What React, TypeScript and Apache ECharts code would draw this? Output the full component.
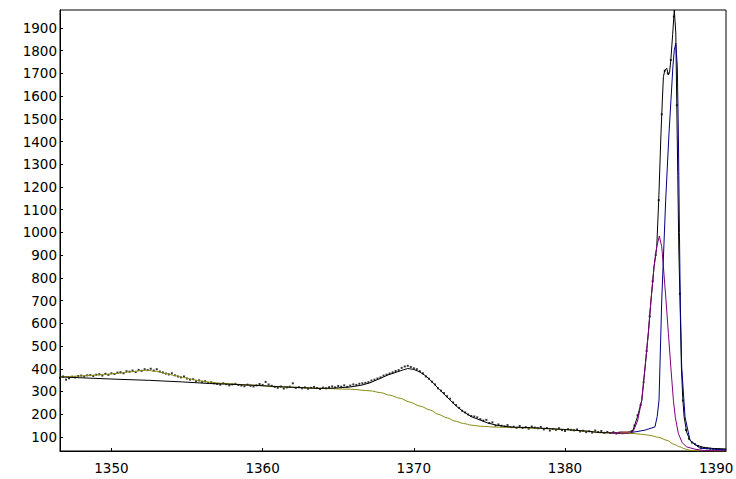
import React, { useEffect, useRef } from "react";
import * as echarts from "echarts";

const xTicks = [1350, 1360, 1370, 1380, 1390];
const yTicks = [100, 200, 300, 400, 500, 600, 700, 800, 900, 1000, 1100, 1200, 1300, 1400, 1500, 1600, 1700, 1800, 1900];
const xMin = 1346.6;
const xMax = 1390.65;
const yMin = 38;
const yMax = 1979;

// measured points: regular scan grid
const scanStart = 1346.6;
const scanStep = 0.2;
const counts = [
  360, 366, 352, 358, 365, 362, 368, 370, 366, 371,
  372, 368, 374, 376, 370, 378, 373, 380, 377, 383,
  385, 380, 389, 387, 392, 386, 395, 391, 398, 394,
  400, 392, 398, 388, 384, 379, 375, 380, 371, 366,
  362, 366, 357, 352, 354, 346, 349, 342, 345, 338,
  340, 336, 333, 330, 336, 332, 327, 331, 334, 329,
  326, 323, 330, 325, 322, 327, 333, 329, 342, 331,
  325, 320, 316, 322, 313, 318, 321, 336, 316, 319,
  314, 318, 312, 316, 320, 315, 311, 317, 314, 319,
  322, 318, 324, 321, 327, 320, 326, 331, 329, 334,
  336, 338, 341, 348, 352, 357, 362, 370, 374, 379,
  384, 390, 394, 404, 410, 413, 408, 402, 398, 389,
  380, 366, 356, 343, 331, 314, 304, 293, 279, 268,
  252, 240, 228, 215, 208, 199, 192, 190, 186, 178,
  172, 175, 161, 164, 150, 155, 149, 146, 152, 143,
  145, 140, 148, 139, 143, 136, 146, 141, 138, 144,
  133, 139, 128, 135, 131, 138, 130, 126, 134, 131,
  129, 133, 124, 127, 121, 125, 119, 128, 122, 126,
  118, 122, 117, 121, 115, 119, 116, 118, 120, 124,
  150, 195, 240, 340, 478, 630, 785, 900, 1142, 1520,
  1712, 1700, 1759, 1950, 1560, 730, 260, 130, 92, 75,
  68, 60, 55, 52, 50, 48, 47, 46, 45, 44, 43,
];

const fitX = [
  1346.6, 1350.3, 1352.5, 1354.7, 1356.5, 1357.4, 1359.2, 1361.4, 1363.6, 1364.5,
  1365.0, 1365.8, 1366.5, 1367.1, 1367.8, 1368.3, 1368.9, 1369.3, 1369.6, 1370.0,
  1370.4, 1370.8, 1371.1, 1371.7, 1372.4, 1372.8, 1373.3, 1373.8, 1374.4, 1374.9,
  1375.5, 1376.5, 1377.7, 1379.9, 1381.5, 1382.3, 1383.5, 1384.2, 1384.5, 1384.8,
  1385.08, 1385.3, 1385.51, 1385.69, 1385.89, 1386.07, 1386.2, 1386.35, 1386.44, 1386.51,
  1386.6, 1386.73, 1386.84, 1386.92, 1387.0, 1387.12, 1387.23, 1387.33, 1387.39, 1387.46,
  1387.53, 1387.61, 1387.7, 1387.79, 1387.88, 1388.05, 1388.27, 1388.6, 1389.13, 1389.8,
  1390.65,
];
const fitY = [
  364, 354, 349, 342, 335, 333, 328, 320, 314, 314,
  316, 320, 327, 338, 358, 373, 386, 395, 401, 397,
  386, 368, 350, 308, 262, 236, 210, 189, 174, 161,
  151, 143, 141, 133, 125, 119, 117, 118, 130, 190,
  262, 408, 555, 702, 849, 937, 1142, 1437, 1582, 1686,
  1712, 1723, 1693, 1705, 1759, 1870, 1979, 1878, 1582, 1250,
  922, 702, 408, 270, 188, 120, 85, 66, 54, 49,
  47,
];

const bgX = [
  1346.6, 1347.3, 1348.1, 1349.2, 1350.3, 1351.3, 1352.3, 1353.0, 1353.6, 1354.2,
  1354.7, 1355.3, 1355.8, 1356.6, 1357.4, 1359.2, 1361.4, 1363.6, 1365.8, 1367.1,
  1367.8, 1368.4, 1369.1, 1369.7, 1370.4, 1371.1, 1371.6, 1372.2, 1372.7, 1373.3,
  1373.8, 1374.4, 1375.5, 1376.6, 1377.7, 1379.9, 1381.5, 1382.3, 1383.5, 1384.5,
  1385.0, 1385.6, 1386.2, 1386.75, 1387.2, 1387.61, 1387.95, 1388.27, 1388.8, 1390.65,
];
const bgY = [
  364, 366, 369, 373, 379, 387, 394, 388, 379, 370,
  362, 354, 347, 340, 335, 328, 320, 314, 310, 303,
  295, 284, 270, 254, 236, 218, 200, 184, 170, 159,
  152, 147, 143, 141, 139, 133, 125, 119, 117, 115,
  112, 107, 98, 85, 68, 56, 47, 41, 38.5, 38,
];

const peakAX = [
  1383.0, 1384.0, 1384.52, 1384.8, 1385.08, 1385.3, 1385.51, 1385.69, 1385.89, 1386.07,
  1386.24, 1386.4, 1386.51, 1386.68, 1386.84, 1387.0, 1387.17, 1387.3, 1387.5, 1387.75,
  1388.05, 1388.6, 1389.2, 1390.65,
];
const peakAY = [
  118, 116, 125, 170, 262, 408, 555, 702, 849, 937,
  984, 937, 849, 702, 555, 408, 262, 185, 115, 75,
  56, 46, 40, 38,
];

const peakBX = [
  1384.0, 1384.63, 1385.3, 1385.95, 1386.1, 1386.22, 1386.4, 1386.66, 1386.88, 1387.01,
  1387.14, 1387.23, 1387.33, 1387.43, 1387.5, 1387.57, 1387.63, 1387.72, 1387.94, 1388.27,
  1388.93, 1390.65,
];
const peakBY = [
  117, 122, 130, 144, 190, 262, 702, 1142, 1437, 1582,
  1732, 1802, 1833, 1729, 1437, 1000, 680, 408, 188, 85,
  50, 43,
];

const markX = [1383.65, 1384.35];
const markY = [120, 119];

const zip = (xs: number[], ys: number[]) => xs.map((x, i) => [x, ys[i]]);

export default function App() {
  const ref = useRef<HTMLDivElement>(null);
  useEffect(() => {
    if (!ref.current) return;
    const chart = echarts.init(ref.current, null, { renderer: "svg" });
    const points = counts.map((v, i) => [+(scanStart + i * scanStep).toFixed(2), v]);
    const font = "DejaVu Sans";
    chart.setOption({
      animation: false,
      backgroundColor: "#ffffff",
      grid: {
        left: 60,
        top: 10,
        width: 666,
        height: 441,
        show: true,
        borderColor: "#000",
        borderWidth: 1,
        containLabel: false,
        outerBoundsMode: "none",
      },
      xAxis: {
        type: "value",
        min: xMin,
        max: xMax,
        axisLine: { show: true, lineStyle: { color: "#000", width: 1 } },
        axisTick: { show: true, inside: true, length: 3, customValues: xTicks, lineStyle: { color: "#000" } },
        axisLabel: {
          customValues: xTicks,
          formatter: (v: number) => String(v),
          color: "#000",
          fontFamily: font,
          fontSize: 13.5,
          margin: 10,
        },
        splitLine: { show: false },
      },
      yAxis: {
        type: "value",
        min: yMin,
        max: yMax,
        axisLine: { show: true, lineStyle: { color: "#000", width: 1 } },
        axisTick: { show: true, inside: true, length: 3, customValues: yTicks, lineStyle: { color: "#000" } },
        axisLabel: {
          customValues: yTicks,
          formatter: (v: number) => String(v),
          color: "#000",
          fontFamily: font,
          fontSize: 13.5,
          margin: 3,
        },
        splitLine: { show: false },
      },
      series: [
        {
          type: "line",
          data: zip(bgX, bgY),
          showSymbol: false,
          smooth: 0.3,
          smoothMonotone: "x",
          lineStyle: { color: "#8a8a10", width: 1 },
        },
        {
          type: "line",
          data: zip(fitX, fitY),
          showSymbol: false,
          lineStyle: { color: "#000000", width: 1 },
        },
        {
          type: "line",
          data: zip(peakAX, peakAY),
          showSymbol: false,
          lineStyle: { color: "#800080", width: 1 },
        },
        {
          type: "line",
          data: zip(peakBX, peakBY),
          showSymbol: false,
          lineStyle: { color: "#000080", width: 1 },
        },
        {
          type: "line",
          data: zip(markX, markY),
          showSymbol: false,
          lineStyle: { color: "#9a4848", width: 2 },
        },
        {
          type: "scatter",
          data: points,
          symbol: "rect",
          symbolSize: 2,
          itemStyle: { color: "#000" },
        },
      ],
    });
    return () => chart.dispose();
  }, []);
  return (
    <div
      ref={ref}
      style={{ position: "fixed", left: 0, top: 0, width: 736, height: 479, background: "#fff" }}
    />
  );
}
